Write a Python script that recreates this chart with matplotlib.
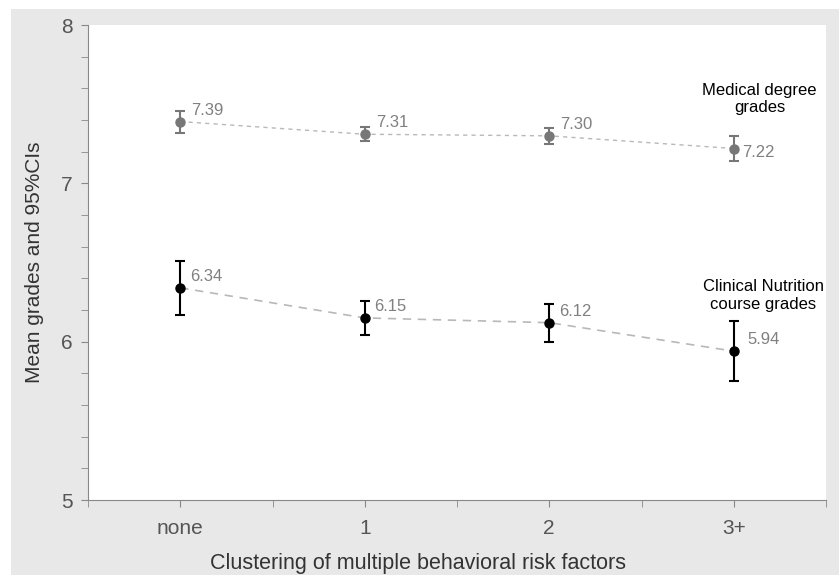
import numpy as np
import matplotlib.pyplot as plt
from matplotlib.ticker import MultipleLocator, FixedLocator

plt.rcParams['font.family'] = ['Liberation Sans', 'DejaVu Sans']

categories = ['none', '1', '2', '3+']
medical = [7.39, 7.31, 7.30, 7.22]
medical_ci = [0.07, 0.045, 0.05, 0.08]
clinical = [6.34, 6.15, 6.12, 5.94]
clinical_ci = [0.17, 0.105, 0.12, 0.19]

x = np.arange(len(categories))

fig = plt.figure(figsize=(8.39, 5.75), dpi=100, facecolor='white')
# grey panel behind the plot
fig.patches.append(plt.Rectangle((11/839, 0), 1, 1 - 9/575, transform=fig.transFigure,
                                 facecolor='#e8e8e8', edgecolor='none', zorder=-1))
ax = fig.add_axes([88/839, 75/575, (826-88)/839, (500-25)/575])
ax.set_facecolor('white')

ax.plot(x, medical, ls=(0, (3, 3)), color='#b8b8b8', lw=1, zorder=1)
ax.errorbar(x, medical, yerr=medical_ci, fmt='o', color='#777777', ms=6.5,
            capsize=3.5, elinewidth=1.5, capthick=1.5, zorder=2)
ax.plot(x, clinical, ls=(0, (5, 4)), color='#b8b8b8', lw=1.2, zorder=1)
ax.errorbar(x, clinical, yerr=clinical_ci, fmt='o', color='black', ms=6.5,
            capsize=3.5, elinewidth=1.5, capthick=1.5, zorder=2)

# value labels
for i, v in enumerate(medical):
    if i == 3:
        ax.annotate(f'{v:.2f}', (x[i], v), xytext=(6, -6), textcoords='offset points',
                    fontsize=12, color='#808080')
    else:
        ax.annotate(f'{v:.2f}', (x[i], v), xytext=(8, 5), textcoords='offset points',
                    fontsize=12, color='#808080')
for i, v in enumerate(clinical):
    dx = 10 if i == 3 else 7
    ax.annotate(f'{v:.2f}', (x[i], v), xytext=(dx, 5), textcoords='offset points',
                fontsize=12, color='#808080')

ax.text(3.14, 7.43, 'Medical degree\ngrades', ha='center', va='bottom', fontsize=12,
        linespacing=1.2)
ax.text(3.16, 6.19, 'Clinical Nutrition\ncourse grades', ha='center', va='bottom', fontsize=12,
        linespacing=1.2)

ax.set_xlim(-0.5, 3.5)
ax.set_ylim(5, 8)
ax.set_xticks(x)
ax.set_xticklabels(categories)
ax.xaxis.set_minor_locator(FixedLocator([-0.5, 0.5, 1.5, 2.5, 3.5]))
ax.yaxis.set_major_locator(MultipleLocator(1))
ax.yaxis.set_minor_locator(MultipleLocator(0.2))

for s in ['top', 'right']:
    ax.spines[s].set_visible(False)
for s in ['left', 'bottom']:
    ax.spines[s].set_color('#888888')
ax.tick_params(which='both', color='#888888', direction='out', length=5)
ax.tick_params(which='major', labelsize=15, labelcolor='#555555')
ax.tick_params(axis='x', which='major', pad=9)
ax.tick_params(axis='y', which='major', pad=6)

ax.set_xlabel('Clustering of multiple behavioral risk factors', fontsize=15.5, color='#333333')
ax.set_ylabel('Mean grades and 95%CIs', fontsize=15, color='#333333')
ax.xaxis.set_label_coords((418 - 88) / 738, -(563 - 500) / 475)
ax.yaxis.set_label_coords(-(88 - 35) / 738, 0.5)
ax.xaxis.label.set_va('center')
ax.yaxis.label.set_va('center')

fig.savefig('out.png', dpi=100)
